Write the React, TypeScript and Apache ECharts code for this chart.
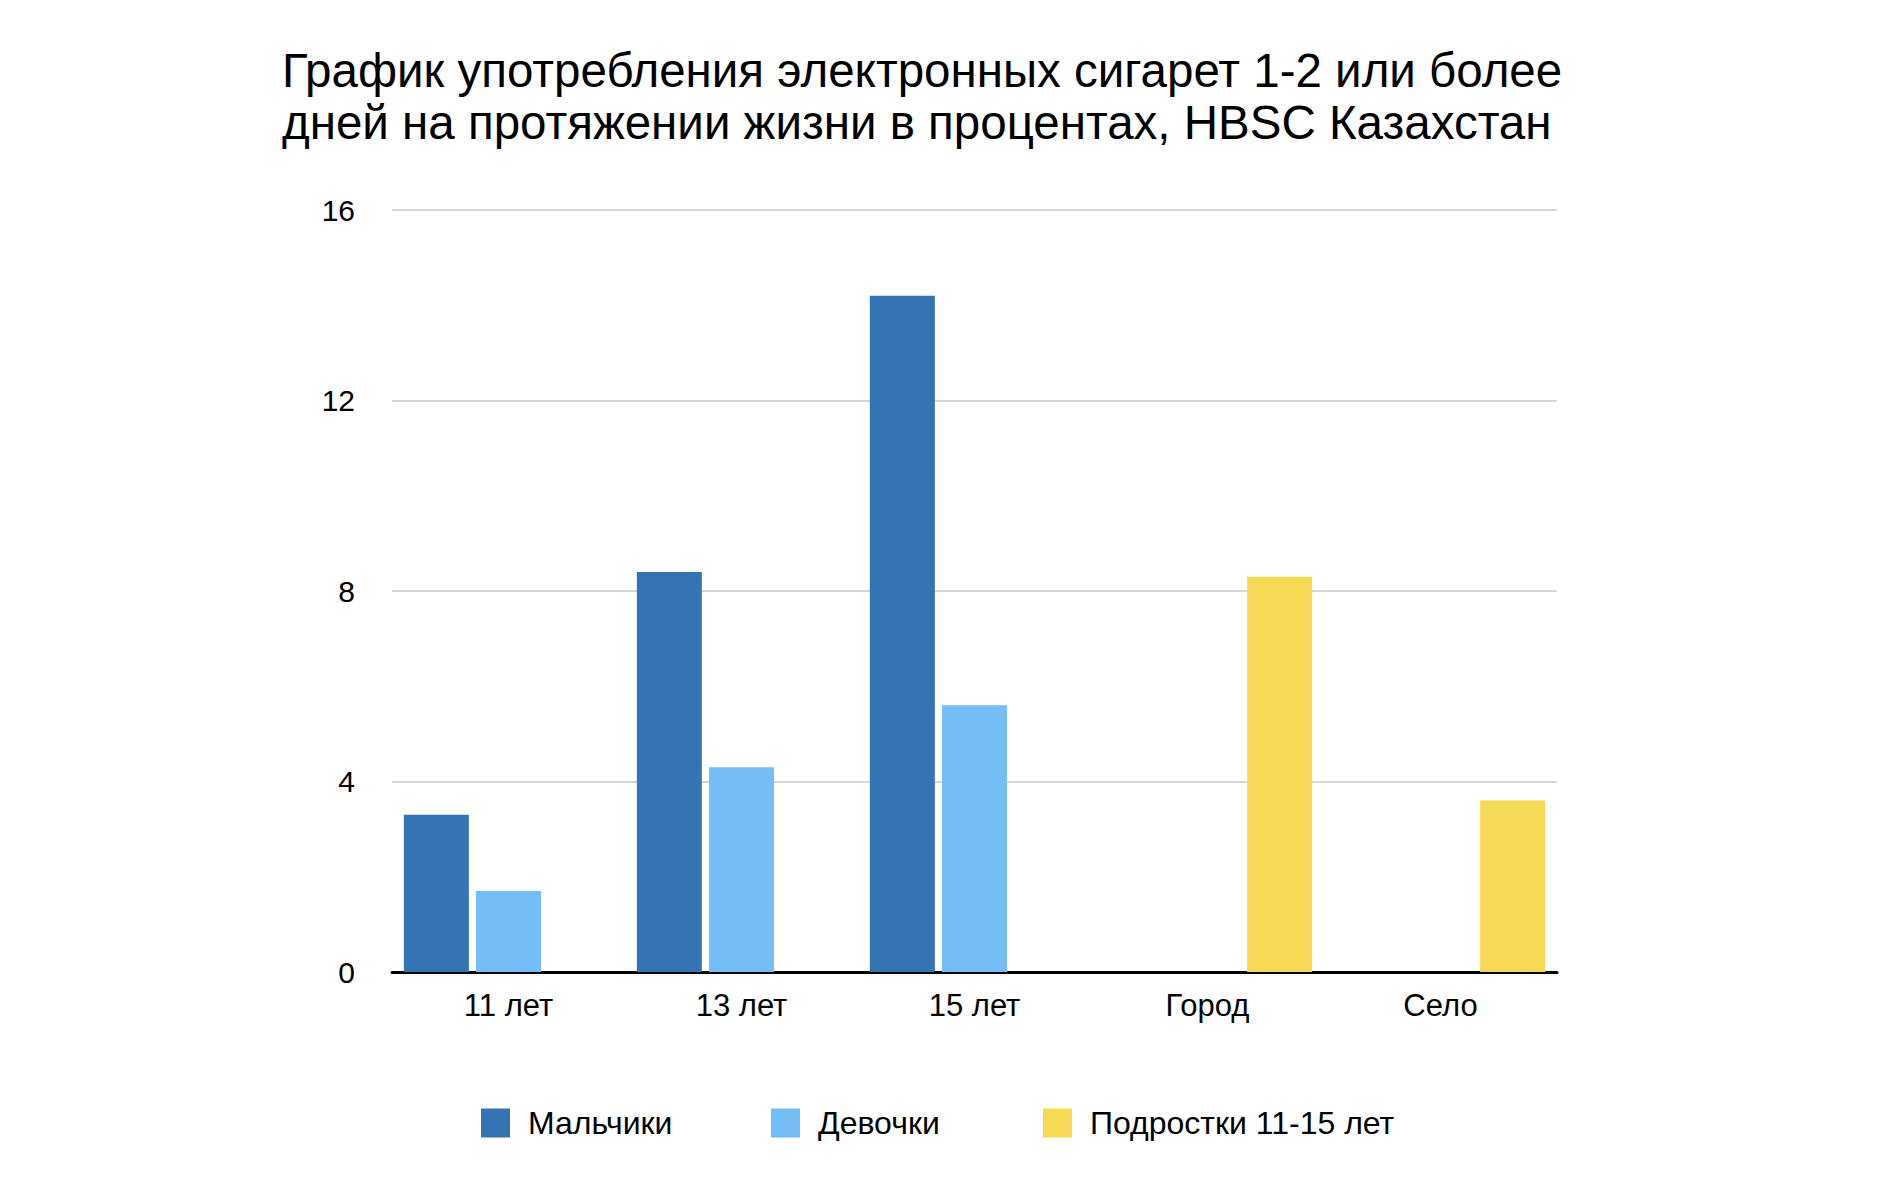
import React, { useEffect, useRef } from "react";
import * as echarts from "echarts";

const categories = ["11 лет", "13 лет", "15 лет", "Город", "Село"];
const boys = [3.3, 8.4, 14.2, null, null];
const girls = [1.7, 4.3, 5.6, null, null];
const teens = [null, null, null, 8.3, 3.6];
const seriesNames = ["Мальчики", "Девочки", "Подростки 11-15 лет"];
const colors = ["#3474B4", "#74BDF7", "#F6D955"];
const yTicks = [0, 4, 8, 12, 16];
const titleLines = [
  "График употребления электронных сигарет 1-2 или более",
  "дней на протяжении жизни в процентах, HBSC Казахстан",
];

const FONT = "'Liberation Sans', Arial, Helvetica, sans-serif";

export default function App() {
  const ref = useRef<HTMLDivElement>(null);
  useEffect(() => {
    if (!ref.current) return;
    const chart = echarts.init(ref.current, undefined, { renderer: "svg" });
    const legendLefts = [476, 766, 1038];
    const seriesData = [boys, girls, teens];
    chart.setOption({
      animation: false,
      backgroundColor: "#ffffff",
      textStyle: { fontFamily: FONT },
      title: {
        text: titleLines.join("\n"),
        left: 277,
        top: 39,
        textStyle: {
          fontFamily: FONT,
          fontSize: 47.5,
          fontWeight: "normal",
          color: "#000",
          lineHeight: 52,
        },
      },
      legend: seriesNames.map((name, i) => ({
        data: [name],
        left: legendLefts[i],
        top: 1102,
        itemWidth: 29,
        itemHeight: 29,
        itemGap: 20,
        icon: "rect",
        textStyle: { fontFamily: FONT, fontSize: 32, color: "#000", padding: [0, 0, 0, 13] },
      })),
      grid: { left: 392, right: 327, top: 210, bottom: 213, containLabel: false },
      xAxis: {
        type: "category",
        data: categories,
        axisTick: { show: false },
        axisLine: { lineStyle: { color: "#000", width: 3 } },
        axisLabel: { fontFamily: FONT, fontSize: 31, color: "#000", margin: 18 },
      },
      yAxis: {
        type: "value",
        min: 0,
        max: 16,
        interval: 4,
        axisLine: { show: false },
        axisTick: { show: false },
        splitLine: { lineStyle: { color: "#c8c8c8", width: 1.5 } },
        axisLabel: {
          fontFamily: FONT,
          fontSize: 30,
          color: "#000",
          margin: 37,
          formatter: (v: number) => (yTicks.includes(v) ? String(v) : ""),
        },
      },
      series: seriesNames.map((name, i) => ({
        name,
        type: "bar",
        data: seriesData[i],
        barWidth: 65,
        barGap: "11%",
        itemStyle: { color: colors[i] },
      })),
    });
    return () => chart.dispose();
  }, []);
  return (
    <div
      ref={ref}
      style={{ position: "fixed", left: 0, top: 0, width: 1884, height: 1185, background: "#fff" }}
    />
  );
}
